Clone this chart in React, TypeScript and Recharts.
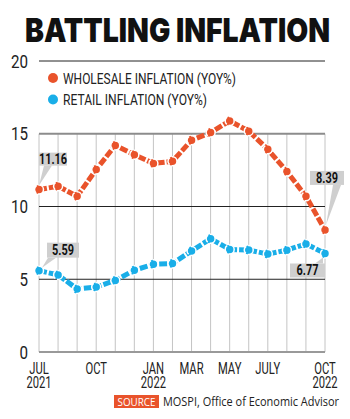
import { LineChart, Line, XAxis, YAxis, ReferenceLine, LabelList } from "recharts"

const months = [
  "Jul 2021", "Aug 2021", "Sep 2021", "Oct 2021", "Nov 2021", "Dec 2021",
  "Jan 2022", "Feb 2022", "Mar 2022", "Apr 2022", "May 2022", "Jun 2022",
  "Jul 2022", "Aug 2022", "Sep 2022", "Oct 2022",
]
const tickLabels = [
  "JUL\n2021", "", "", "OCT", "", "", "JAN\n2022", "", "MAR", "", "MAY", "", "JULY", "", "", "OCT\n2022",
]
const wholesale = [11.16, 11.39, 10.7, 12.54, 14.2, 13.56, 12.96, 13.11, 14.55, 15.08, 15.88, 15.18, 13.93, 12.41, 10.7, 8.39]
const retail = [5.59, 5.3, 4.33, 4.46, 4.92, 5.62, 6.03, 6.08, 6.95, 7.78, 7.05, 7.01, 6.73, 7.0, 7.43, 6.77]
const yTicks = [0, 5, 10, 15, 20]

const ORANGE = "#e9532b"
const BLUE = "#19aee8"
const FONT = "Roboto, sans-serif"

const data = months.map((m, i) => ({ month: m, wholesale: wholesale[i], retail: retail[i] }))

// callout boxes, relative to the point they describe
const wholesaleCallouts: Record<number, any> = {
  0: { dx: 0, dy: -37, w: 28, h: 13, bx: [5, 13], by: -24, tip: [0, -4] },
  15: { dx: -15, dy: -59, w: 34, h: 14, bx: [8, 16], by: -45, tip: [1, -5] },
}
const retailCallouts: Record<number, any> = {
  0: { dx: 8, dy: -28, w: 32, h: 15, bx: [9, 17], by: -13, tip: [3, -3] },
  15: { dx: -35, dy: 10, w: 35, h: 14, bx: [-10, -2], by: 10, tip: [-2, 4] },
}

const makeCallout = (cfg: Record<number, any>) => (props: any) => {
  const { x, y, value, index } = props
  const c = cfg[index]
  if (!c) return null
  const bx = x + c.dx
  const by = y + c.dy
  const pts = `${x + c.bx[0]},${y + c.by} ${x + c.bx[1]},${y + c.by} ${x + c.tip[0]},${y + c.tip[1]}`
  return (
    <g>
      <polygon points={pts} fill="#cfcfcf" />
      <rect x={bx} y={by} width={c.w} height={c.h} fill="#cfcfcf" />
      <text
        transform={`translate(${bx + c.w / 2},${by + c.h / 2 + 5}) scale(0.78,1)`}
        textAnchor="middle"
        fontFamily={FONT}
        fontWeight={700}
        fontSize={14}
        fill="#111"
      >
        {Number(value).toFixed(2)}
      </text>
    </g>
  )
}

const XTick = (props: any) => {
  const { x, y, payload } = props
  const label = tickLabels[months.indexOf(payload.value)] || ""
  if (!label) return null
  return (
    <g>
      {label.split("\n").map((line, i) => (
        <text
          key={i}
          transform={`translate(${x},${y + 14 + i * 14}) scale(0.68,1)`}
          textAnchor="middle"
          fontFamily={FONT}
          fontSize={16.5}
          fill="#222"
        >
          {line}
        </text>
      ))}
    </g>
  )
}

const YTick = (props: any) => {
  const { y, payload } = props
  return (
    <text
      transform={`translate(28,${y + 6.6}) scale(0.82,1)`}
      textAnchor="end"
      fontFamily={FONT}
      fontSize={18.5}
      fill="#222"
    >
      {payload.value}
    </text>
  )
}

export default function App() {
  return (
    <div style={{ position: "relative", width: 350, height: 419, background: "#fff" }}>
      <style>{"body{margin:0}"}</style>
      <LineChart width={350} height={419} data={data} margin={{ top: 61, right: 25, left: 0, bottom: 27 }}>
        {months.map((m) => (
          <ReferenceLine
            key={m}
            segment={[{ x: m, y: 0 }, { x: m, y: 15 }]}
            stroke="#c4c4c4"
            strokeWidth={1}
          />
        ))}
        <ReferenceLine y={20} stroke="#222" strokeWidth={1} />
        <ReferenceLine y={15} stroke="#8c8c8c" strokeWidth={2} />
        <ReferenceLine y={10} stroke="#222" strokeWidth={1} />
        <ReferenceLine y={5} stroke="#222" strokeWidth={1} />
        <XAxis
          dataKey="month"
          scale="point"
          padding={{ left: 0, right: 0 }}
          interval={0}
          height={40}
          axisLine={{ stroke: "#999", strokeWidth: 2 }}
          tickLine={false}
          tick={<XTick />}
        />
        <YAxis
          domain={[0, 20]}
          ticks={yTicks}
          width={39}
          axisLine={false}
          tickLine={false}
          tick={<YTick />}
        />
        <Line
          dataKey="wholesale"
          stroke={ORANGE}
          strokeWidth={5}
          strokeDasharray="8 2"
          dot={{ r: 4.5, fill: ORANGE, stroke: "#fff", strokeWidth: 1.5 }}
          isAnimationActive={false}
        >
          <LabelList dataKey="wholesale" content={makeCallout(wholesaleCallouts)} />
        </Line>
        <Line
          dataKey="retail"
          stroke={BLUE}
          strokeWidth={5}
          strokeDasharray="8 2"
          dot={{ r: 4.5, fill: BLUE, stroke: "#fff", strokeWidth: 1.5 }}
          isAnimationActive={false}
        >
          <LabelList dataKey="retail" content={makeCallout(retailCallouts)} />
        </Line>
      </LineChart>

      <svg width={350} height={419} style={{ position: "absolute", left: 0, top: 0, pointerEvents: "none" }}>
        <text x={25} y={42} fontFamily="Inter, sans-serif" fontWeight={900} fontSize={33} fill="#111" textLength={305} lengthAdjust="spacingAndGlyphs">
          BATTLING INFLATION
        </text>

        <circle cx={53} cy={78} r={5} fill={ORANGE} />
        <text x={63} y={83.5} fontFamily={FONT} fontSize={15} fill="#222" textLength={173} lengthAdjust="spacingAndGlyphs">
          WHOLESALE INFLATION (YOY%)
        </text>
        <circle cx={53} cy={99.5} r={5} fill={BLUE} />
        <text x={63} y={105} fontFamily={FONT} fontSize={15} fill="#222" textLength={144} lengthAdjust="spacingAndGlyphs">
          RETAIL INFLATION (YOY%)
        </text>

        <rect x={114} y={395} width={45} height={13} fill={ORANGE} />
        <text x={136.5} y={405.5} textAnchor="middle" fontFamily="'Open Sans', sans-serif" fontSize={10} fill="#fff" textLength={38} lengthAdjust="spacingAndGlyphs">
          SOURCE
        </text>
        <text x={163} y={405.5} fontFamily="'Open Sans', sans-serif" fontSize={12} fill="#222" textLength={176} lengthAdjust="spacingAndGlyphs">
          MOSPI, Office of Economic Advisor
        </text>
      </svg>
    </div>
  )
}
